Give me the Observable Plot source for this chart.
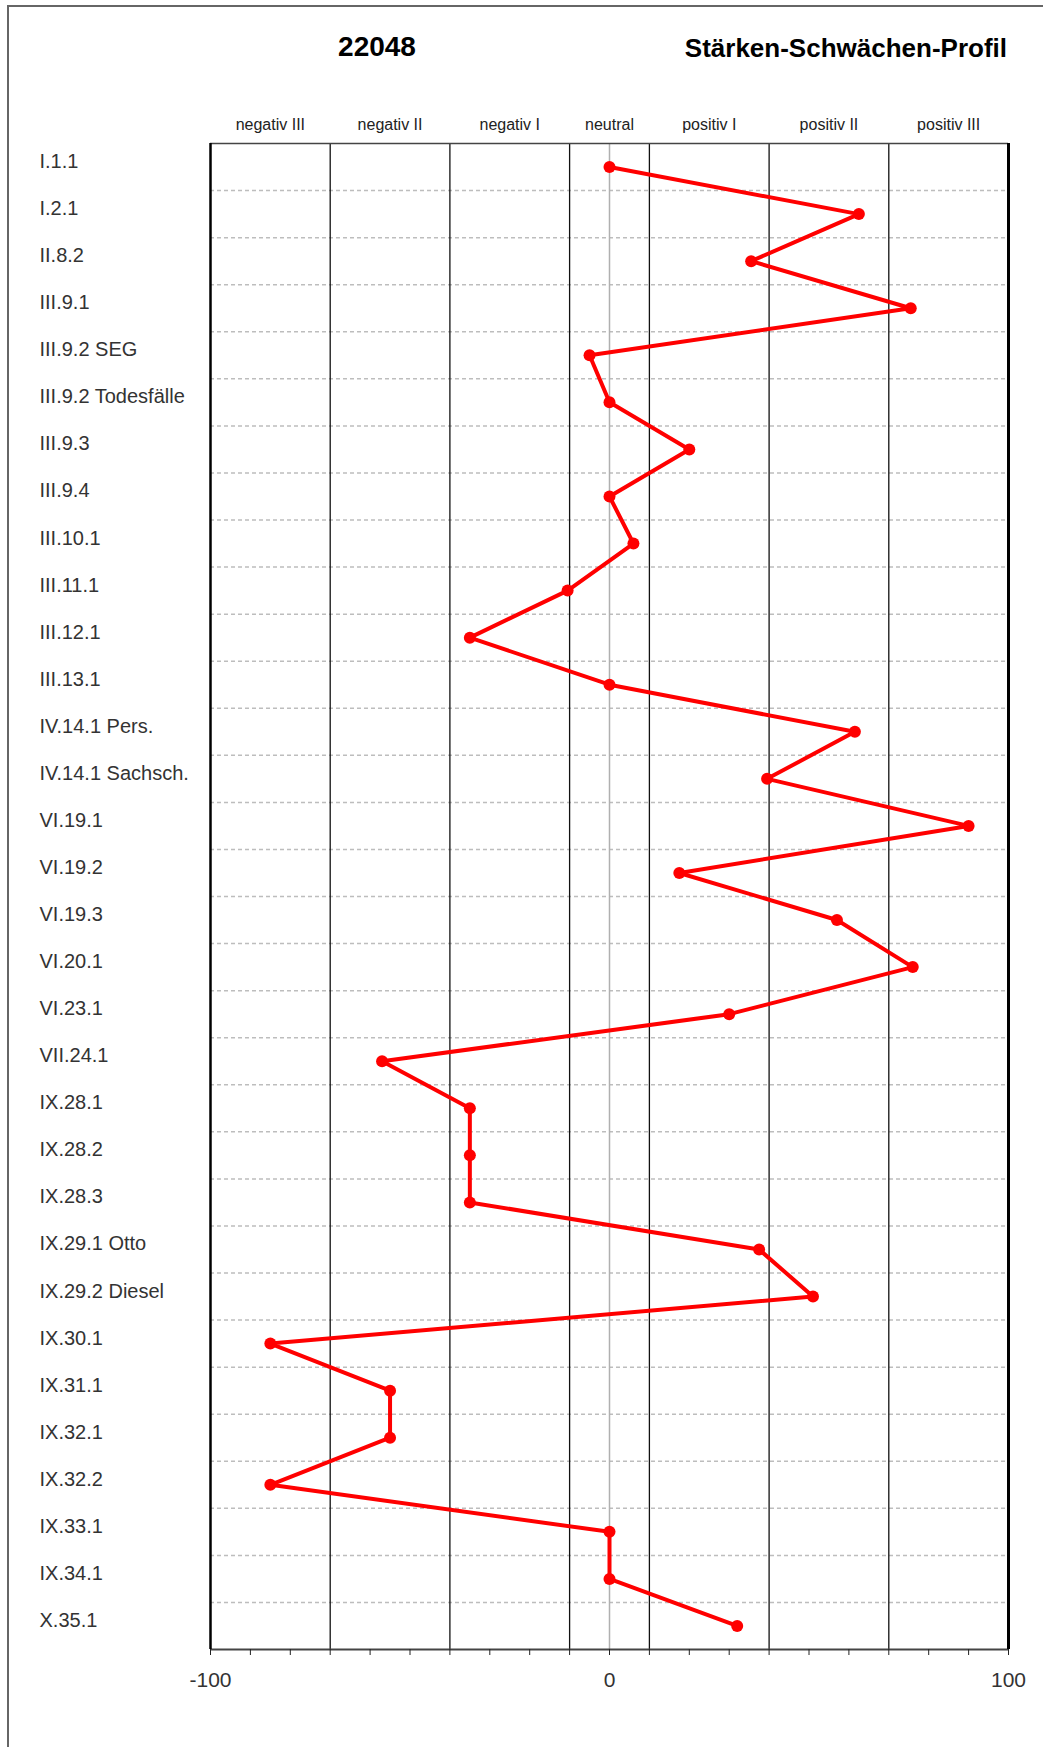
<!DOCTYPE html>
<html><head><meta charset="utf-8">
<script src="https://cdn.jsdelivr.net/npm/d3@7"></script>
<script src="https://cdn.jsdelivr.net/npm/@observablehq/plot@0.6"></script>
<style>
body{margin:0;background:#fff;}
#wrap{position:relative;width:1043px;height:1747px;overflow:hidden;font-family:"Liberation Sans",Arial,sans-serif;background:#fff;}
#chart{position:absolute;left:0;top:0;}
#border{position:absolute;left:7px;top:5px;right:-10px;bottom:-10px;border-left:2px solid #666;border-top:2px solid #666;pointer-events:none;}
.t{position:absolute;font-weight:bold;line-height:1;color:#000;white-space:nowrap;}
</style></head><body>
<div id="wrap">
<div id="chart"></div>
<div id="border"></div>
<div class="t" style="left:277px;width:200px;text-align:center;top:33px;font-size:28px;">22048</div>
<div class="t" style="right:36px;top:35px;font-size:26px;">Stärken-Schwächen-Profil</div>
</div>
<script>
const categories = [
  "I.1.1", "I.2.1", "II.8.2", "III.9.1", "III.9.2 SEG", "III.9.2 Todesfälle",
  "III.9.3", "III.9.4", "III.10.1", "III.11.1", "III.12.1", "III.13.1",
  "IV.14.1 Pers.", "IV.14.1 Sachsch.", "VI.19.1", "VI.19.2", "VI.19.3", "VI.20.1",
  "VI.23.1", "VII.24.1", "IX.28.1", "IX.28.2", "IX.28.3", "IX.29.1 Otto",
  "IX.29.2 Diesel", "IX.30.1", "IX.31.1", "IX.32.1", "IX.32.2", "IX.33.1",
  "IX.34.1", "X.35.1"
];
const values = [
  0, 62.5, 35.5, 75.5, -5, 0,
  20, 0, 6, -10.5, -35, 0,
  61.5, 39.5, 90, 17.5, 57, 76,
  30, -57, -35, -35, -35, 37.5,
  51, -85, -55, -55, -85, 0,
  0, 32
];
const zoneBounds = [-70, -40, -10, 10, 40, 70];
const zoneLabels = ["negativ III", "negativ II", "negativ I", "neutral", "positiv I", "positiv II", "positiv III"];
const zoneCenters = [-85, -55, -25, 0, 25, 55, 85];
const tickValues = [-100, -90, -80, -70, -60, -50, -40, -30, -20, -10, 0, 10, 20, 30, 40, 50, 60, 70, 80, 90, 100];
const tickLabels = [-100, 0, 100];

const data = categories.map((c, i) => ({cat: c, idx: i, v: values[i]}));
const separators = categories.slice(1).map((c, i) => i + 0.5);
const zones = zoneLabels.map((l, i) => ({label: l, x: zoneCenters[i]}));
const yTop = -0.5, yBottom = categories.length - 0.5;

const chart = Plot.plot({
  width: 1043,
  height: 1747,
  marginLeft: 210,
  marginRight: 35,
  marginTop: 143,
  marginBottom: 98,
  style: {background: "transparent", fontFamily: "'Liberation Sans', Arial, sans-serif", fontSize: "21px", overflow: "visible"},
  x: {domain: [-100, 100]},
  y: {domain: [yBottom, yTop], axis: null},
  marks: [
    Plot.ruleY(separators, {y: d => d, stroke: "#bdbdbd", strokeWidth: 1.5, strokeDasharray: "4,3"}),
    Plot.ruleX([0], {x: d => d, stroke: "#b0b0b0", strokeWidth: 1.5}),
    Plot.ruleX(zoneBounds, {x: d => d, stroke: "#111", strokeWidth: 1.3}),
    Plot.ruleY([yTop], {y: d => d, stroke: "#444", strokeWidth: 1.5}),
    Plot.ruleY([yBottom], {y: d => d, stroke: "#444", strokeWidth: 2}),
    Plot.ruleX([-100], {x: d => d, stroke: "#000", strokeWidth: 2.5}),
    Plot.ruleX([100], {x: d => d, stroke: "#000", strokeWidth: 3}),
    Plot.axisX({
      ticks: tickValues,
      tickFormat: d => tickLabels.includes(d) ? String(d) : "",
      tickSize: 6,
      tickPadding: 17,
      stroke: "#222",
      fill: "#333",
      fontSize: 21,
      label: null
    }),
    Plot.line(data, {x: "v", y: "idx", stroke: "#ff0000", strokeWidth: 4}),
    Plot.dot(data, {x: "v", y: "idx", r: 6, fill: "#ff0000", stroke: null}),
    Plot.text(data, {
      y: "idx", text: "cat", frameAnchor: "left", dx: -171, dy: 1,
      textAnchor: "start", lineAnchor: "bottom", fontSize: 20, fill: "#333"
    }),
    Plot.text(zones, {
      x: "x", text: "label", frameAnchor: "top", dy: -14,
      lineAnchor: "bottom", fontSize: 16, fill: "#222"
    })
  ]
});
document.getElementById("chart").appendChild(chart);
</script>
</body></html>
